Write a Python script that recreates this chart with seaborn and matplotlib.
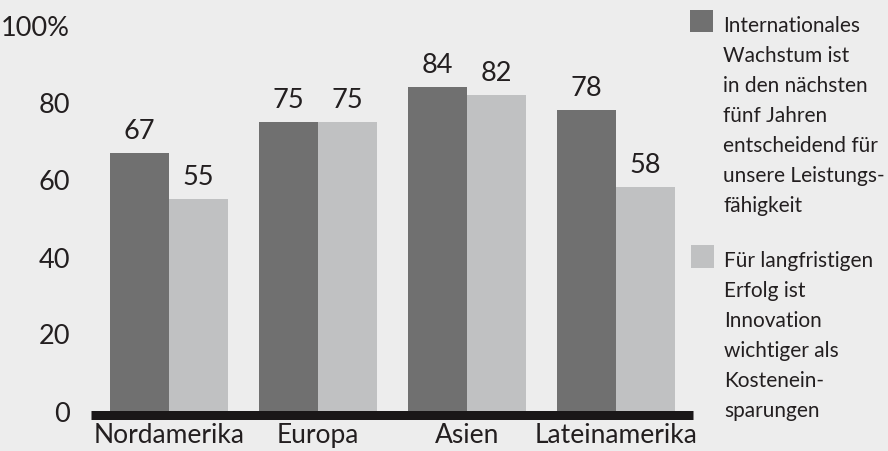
import matplotlib
matplotlib.use("Agg")
import matplotlib.pyplot as plt
from matplotlib.patches import Rectangle
import seaborn as sns
import pandas as pd

# ---- data ----
regions = ["Nordamerika", "Europa", "Asien", "Lateinamerika"]
growth = [67, 75, 84, 78]
innovation = [55, 75, 82, 58]
series_names = ["Wachstum", "Innovation"]
y_ticks = [0, 20, 40, 60, 80, 100]
y_tick_labels = ["0", "20", "40", "60", "80", "100%"]
legend_lines_1 = ["Internationales", "Wachstum ist", "in den nächsten",
                  "fünf Jahren", "entscheidend für", "unsere Leistungs-",
                  "fähigkeit"]
legend_lines_2 = ["Für langfristigen", "Erfolg ist", "Innovation",
                  "wichtiger als", "Kostenein-", "sparungen"]

BG = "#ededed"
DARK = "#707070"
LIGHT = "#c0c1c2"
TXT = "#231f20"

sns.set_theme(style="white")
plt.rcParams["font.family"] = ["Lato", "DejaVu Sans"]

df = pd.DataFrame({
    "region": regions * 2,
    "value": growth + innovation,
    "series": [series_names[0]] * len(regions) + [series_names[1]] * len(regions),
})

W, H = 888, 452
fig = plt.figure(figsize=(W / 100, H / 100), dpi=100, facecolor=BG)
left, right = 91, 693
y0, y100 = 411.5, 26.5
ax = fig.add_axes([left / W, 1 - y0 / H, (right - left) / W, (y0 - y100) / H])
ax.set_facecolor(BG)

sns.barplot(data=df, x="region", y="value", hue="series",
            palette=[DARK, LIGHT], width=0.79, gap=0, ax=ax,
            legend=False, saturation=1, linewidth=0, errorbar=None)

for cont in ax.containers:
    ax.bar_label(cont, padding=7, fontsize=19.5, color=TXT)

ax.set_xlim(-0.523, 3.517)
ax.set_ylim(0, 100)
ax.set_yticks(y_ticks)
ax.set_yticklabels(y_tick_labels, fontsize=19.5, color=TXT)
ax.tick_params(axis="y", length=0, pad=15)
ax.tick_params(axis="x", length=0, pad=5, labelsize=19, labelcolor=TXT)
ax.set_xlabel("")
ax.set_ylabel("")

for s in ["top", "right", "left"]:
    ax.spines[s].set_visible(False)
ax.spines["bottom"].set_color("#1a1718")
ax.spines["bottom"].set_linewidth(9 * 0.72)
ax.spines["bottom"].set_position(("outward", 4.5 * 0.72))
ax.spines["bottom"].set_capstyle("butt")

def fx(px):
    return px / W

def fy(py):
    return 1 - py / H

fig.add_artist(Rectangle((fx(690), fy(33)), 23 / W, 22 / H,
                         transform=fig.transFigure, color=DARK, lw=0))
fig.add_artist(Rectangle((fx(691), fy(269)), 23 / W, 23 / H,
                         transform=fig.transFigure, color=LIGHT, lw=0))
for i, line in enumerate(legend_lines_1):
    fig.text(fx(723), fy(32 + 30 * i), line, fontsize=15, color=TXT,
             va="baseline", ha="left")
for i, line in enumerate(legend_lines_2):
    fig.text(fx(724), fy(267 + 30 * i), line, fontsize=15, color=TXT,
             va="baseline", ha="left")

fig.savefig("out.png", dpi=100, facecolor=BG)
